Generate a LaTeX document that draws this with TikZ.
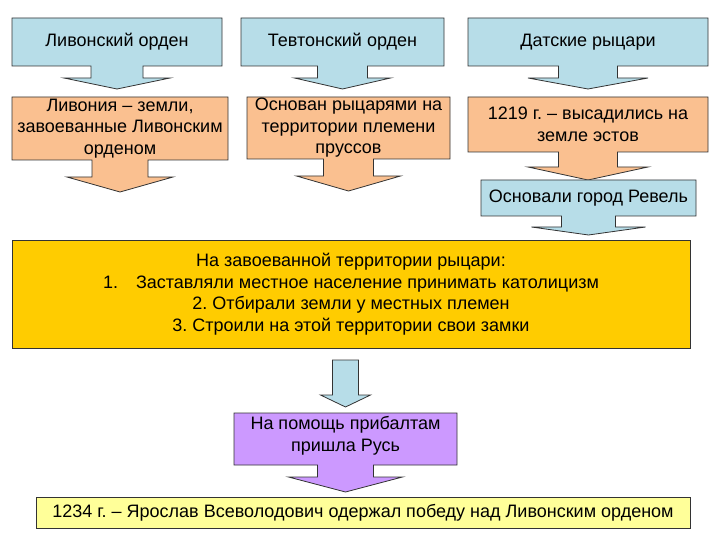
\documentclass[tikz,border=0pt]{standalone}
\usepackage{fontspec}
\setmainfont{Liberation Sans}
\frenchspacing
\usetikzlibrary{calc, backgrounds}
\definecolor{orderblue}{HTML}{B7DDE8}
\definecolor{landorange}{HTML}{FAC090}
\definecolor{ruleyellow}{HTML}{FFCC00}
\definecolor{ruspurple}{HTML}{CC99FF}
\definecolor{winyellow}{HTML}{FFFF99}
\definecolor{edgegray}{HTML}{333333}

% callout box with a down arrow below: #1 node, #2 fill, #3 stem half width,
% #4 stem length, #5 head half width, #6 head length
\newcommand{\calloutarrow}[6]{%
  \begin{scope}[on background layer]
    \draw[outline, fill=#2] (#1.north west) -- (#1.north east) -- (#1.south east)
      -- ($(#1.south)+(#3,0)$) -- ($(#1.south)+(#3,#4)$) -- ($(#1.south)+(#5,#4)$)
      -- ($(#1.south)+(0,#4+#6)$)
      -- ($(#1.south)+(-#5,#4)$) -- ($(#1.south)+(-#3,#4)$) -- ($(#1.south)+(-#3,0)$)
      -- (#1.south west) -- cycle;
  \end{scope}}

\begin{document}
\begin{tikzpicture}[x=1pt, y=-1pt,
  outline/.style={draw=edgegray, line width=0.8pt, line join=miter},
  textbox/.style={inner sep=0pt, outer sep=0pt, align=center, font=\fontsize{18}{21.5}\selectfont},
  filledbox/.style={textbox, outline}
]
\useasboundingbox (0,0) rectangle (720,540);
\begin{scope}[on background layer]
  \fill[white] (0,0) rectangle (720,540);
\end{scope}

\node[textbox, minimum width=210, minimum height=48] (livorder) at (117,42) {Ливонский орден};
\node[textbox, minimum width=203, minimum height=48] (teuorder) at (342.5,42) {Тевтонский орден};
\node[textbox, minimum width=240, minimum height=48] (danes) at (588,42) {Датские рыцари};

\node[textbox, minimum width=216, minimum height=63] (livonia) at (120,128.5) {Ливония – земли,\\завоеванные Ливонским\\орденом};
\node[textbox, minimum width=203, minimum height=62] (prussia) at (348.5,128) {Основан рыцарями на\\территории племени\\пруссов};
\node[textbox, minimum width=240, minimum height=55] (landed) at (588,124.5) {1219 г. – высадились на\\земле эстов};

\node[textbox, minimum width=215, minimum height=36] (revel) at (588.5,198) {Основали город Ревель};

\node[filledbox, fill=ruleyellow, minimum width=678, minimum height=108] (conquered) at (351,294)
  {На завоеванной территории рыцари:\\1.\quad Заставляли местное население принимать католицизм\\2. Отбирали земли у местных племен\\3. Строили на этой территории свои замки};

\node[textbox, minimum width=223, minimum height=52, text depth=10pt] (rus) at (345.5,439) {На помощь прибалтам\\пришла Русь};

\node[filledbox, fill=winyellow, minimum width=654, minimum height=31] (victory) at (363,512.5)
  {1234 г. – Ярослав Всеволодович одержал победу над Ливонским орденом};

\calloutarrow{livorder}{orderblue}{26}{12}{53}{11}
\calloutarrow{teuorder}{orderblue}{25}{12}{48}{11}
\calloutarrow{danes}{orderblue}{29.5}{12}{60}{11}
\calloutarrow{livonia}{landorange}{28}{17}{53}{15}
\calloutarrow{prussia}{landorange}{25}{17}{52}{15}
\calloutarrow{landed}{landorange}{29.5}{15}{60}{13}
\calloutarrow{revel}{orderblue}{27}{11}{57}{8}
\calloutarrow{rus}{ruspurple}{28}{12}{57}{15}

\draw[outline, fill=orderblue] ($(rus.north)+(-13,-53)$) -- ($(rus.north)+(13,-53)$)
  -- ($(rus.north)+(13,-18)$) -- ($(rus.north)+(25,-18)$) -- ($(rus.north)+(0,-6)$)
  -- ($(rus.north)+(-25,-18)$) -- ($(rus.north)+(-13,-18)$) -- cycle;
\end{tikzpicture}
\end{document}
